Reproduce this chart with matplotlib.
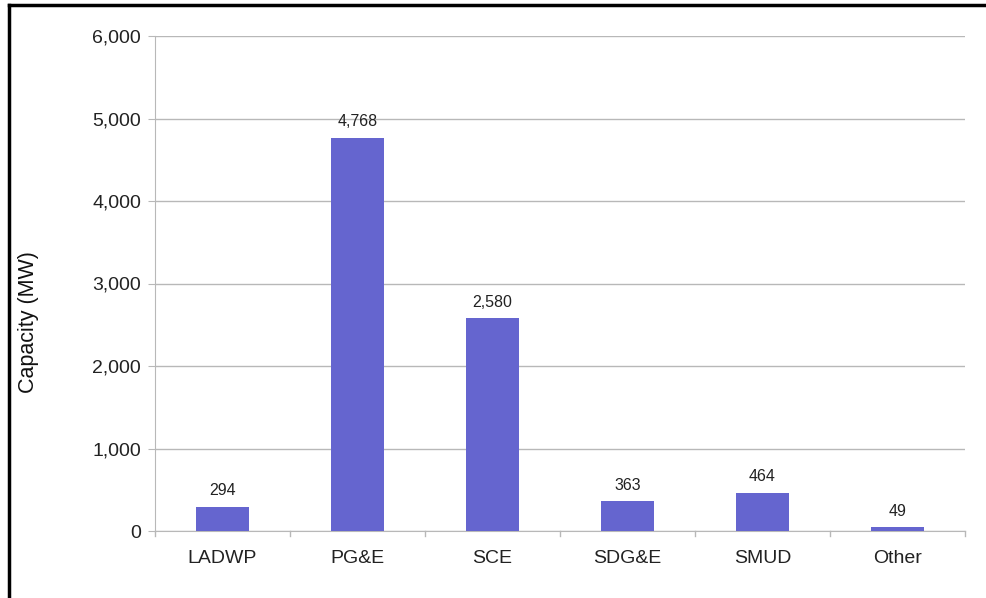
import matplotlib
matplotlib.use('Agg')
from matplotlib import pyplot as plt
from matplotlib.lines import Line2D

utilities = ['LADWP', 'PG&E', 'SCE', 'SDG&E', 'SMUD', 'Other']
capacity_mw = [294, 4768, 2580, 363, 464, 49]
y_ticks = [0, 1000, 2000, 3000, 4000, 5000, 6000]

plt.rcParams['font.family'] = ['Liberation Sans', 'DejaVu Sans']

fig = plt.figure(figsize=(9.86, 5.98), dpi=100)
ax = fig.add_axes([155 / 986, 1 - 531 / 598, 810 / 986, 495 / 598])

bar_color = '#6565cf'
grid_color = '#b8b8b8'
text_color = '#222222'

x = list(range(len(utilities)))
ax.bar(x, capacity_mw, width=0.39, color=bar_color, zorder=3)
for xi, v in zip(x, capacity_mw):
    ax.annotate(f'{v:,}', (xi, v), xytext=(0, 6), textcoords='offset points',
                ha='center', va='bottom', fontsize=11.5, color=text_color)

ax.set_xlim(-0.5, len(utilities) - 0.5)
ax.set_ylim(0, 6000)
ax.set_yticks(y_ticks)
ax.set_yticklabels([f'{t:,}' for t in y_ticks], fontsize=14, color=text_color)
ax.yaxis.grid(True, color=grid_color, linewidth=1, zorder=0)
ax.tick_params(axis='y', length=5, color=grid_color, pad=5)

ax.set_xticks(x)
ax.set_xticklabels(utilities, fontsize=14, color=text_color)
ax.tick_params(axis='x', length=0, pad=14)
# category boundary ticks
for b in range(len(utilities) + 1):
    ax.plot([b - 0.5, b - 0.5], [0, -0.01], transform=ax.get_xaxis_transform(),
            color=grid_color, linewidth=1, clip_on=False)

for side in ['top', 'right']:
    ax.spines[side].set_visible(False)
ax.spines['left'].set_color(grid_color)
ax.spines['bottom'].set_color(grid_color)

ax.set_ylabel('Capacity (MW)', fontsize=15.5, color='#111111')
ax.yaxis.set_label_coords(-(155 - 39) / 810, (531 - 322) / 495)

# outer frame (left and top edges)
fig.add_artist(Line2D([9 / 986, 9 / 986], [0, 1 - 5 / 598], color='black', linewidth=2.5,
                      transform=fig.transFigure))
fig.add_artist(Line2D([9 / 986, 1], [1 - 5 / 598, 1 - 5 / 598], color='black', linewidth=2.5,
                      transform=fig.transFigure))

plt.savefig('out.png', dpi=100)
